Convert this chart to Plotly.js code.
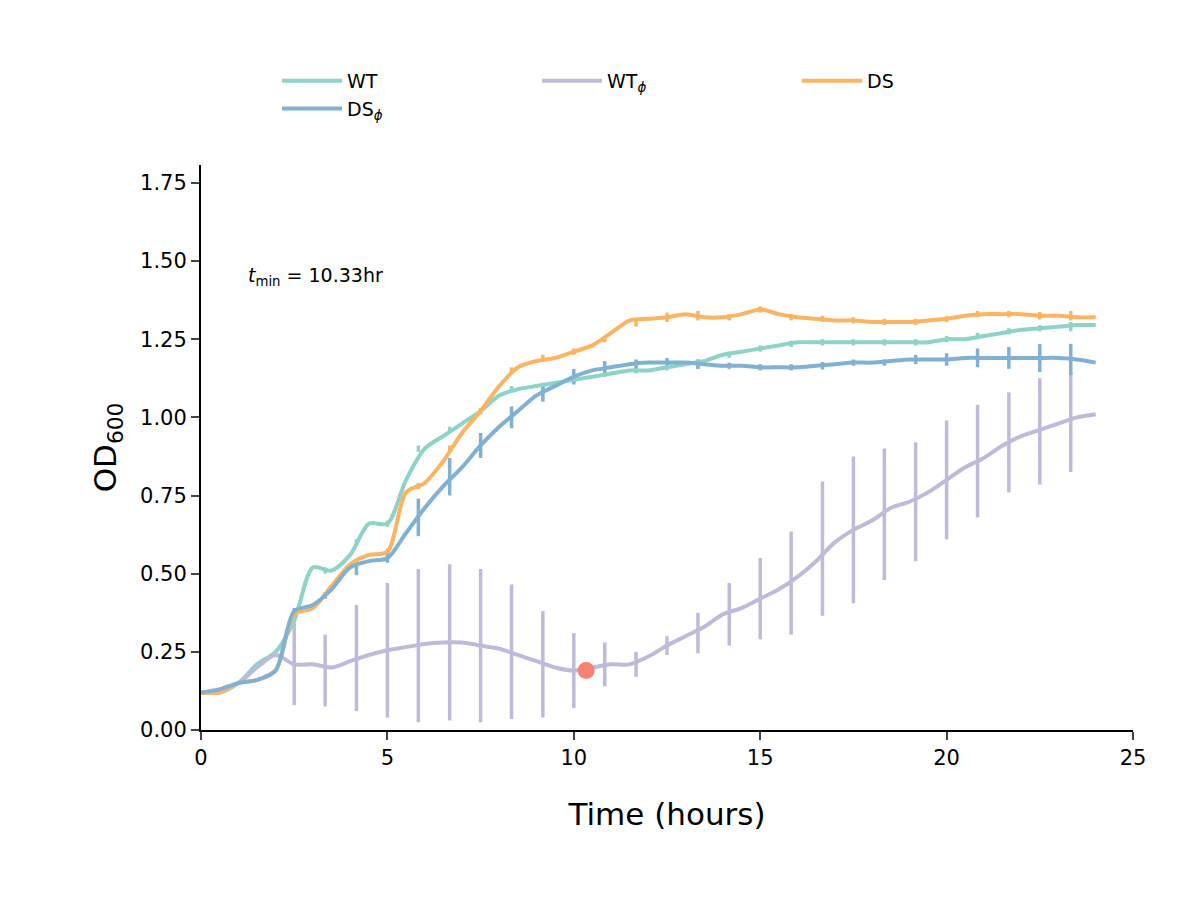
<!DOCTYPE html>
<html>
<head>
<script src="https://cdn.plot.ly/plotly-3.0.1.min.js"></script>
<style>body{margin:0}#plot{width:1200px;height:900px}</style>
</head>
<body>
<div id="plot"></div>
<script>
// time grid (hours) for the curves
const times = [0,0.5,1,1.5,2,2.5,3,3.5,4,4.5,5,5.5,6,6.5,7,7.5,8,8.5,9,9.5,10,10.5,11,11.5,12,12.5,13,13.5,14,14.5,15,15.5,16,16.5,17,17.5,18,18.5,19,19.5,20,20.5,21,21.5,22,22.5,23,23.5,24];

const wt = [0.12,0.12,0.15,0.21,0.25,0.35,0.52,0.51,0.56,0.66,0.66,0.80,0.90,0.94,0.98,1.02,1.07,1.09,1.10,1.11,1.12,1.13,1.14,1.15,1.15,1.16,1.17,1.18,1.20,1.21,1.22,1.23,1.24,1.24,1.24,1.24,1.24,1.24,1.24,1.24,1.25,1.25,1.26,1.27,1.28,1.285,1.29,1.295,1.295];
const wtPhi = [0.12,0.13,0.15,0.20,0.24,0.21,0.21,0.20,0.22,0.24,0.255,0.265,0.275,0.28,0.28,0.27,0.26,0.24,0.22,0.20,0.19,0.20,0.21,0.21,0.235,0.27,0.30,0.33,0.37,0.39,0.42,0.45,0.49,0.54,0.60,0.64,0.67,0.71,0.73,0.76,0.80,0.84,0.87,0.91,0.94,0.96,0.98,1.00,1.01];
const ds = [0.12,0.12,0.15,0.16,0.19,0.37,0.39,0.46,0.53,0.56,0.57,0.76,0.79,0.86,0.95,1.02,1.10,1.16,1.18,1.19,1.21,1.23,1.27,1.31,1.315,1.32,1.33,1.32,1.32,1.33,1.345,1.33,1.32,1.315,1.31,1.31,1.305,1.305,1.305,1.31,1.315,1.325,1.33,1.33,1.33,1.325,1.325,1.32,1.32];
const dsPhi = [0.12,0.13,0.15,0.16,0.19,0.38,0.40,0.45,0.52,0.54,0.55,0.63,0.71,0.78,0.84,0.91,0.97,1.02,1.07,1.10,1.13,1.15,1.16,1.17,1.175,1.175,1.175,1.17,1.165,1.165,1.16,1.16,1.16,1.165,1.17,1.175,1.175,1.18,1.185,1.185,1.185,1.19,1.19,1.19,1.19,1.19,1.19,1.185,1.175];

// error bar sample times and values
const errTimes = [2.5,3.33,4.17,5,5.83,6.67,7.5,8.33,9.17,10,10.83,11.67,12.5,13.33,14.17,15,15.83,16.67,17.5,18.33,19.17,20,20.83,21.67,22.5,23.33];
const wtPhiErrMean = [0.21,0.19,0.23,0.255,0.27,0.28,0.27,0.25,0.21,0.19,0.21,0.21,0.27,0.31,0.37,0.42,0.47,0.58,0.64,0.69,0.73,0.80,0.86,0.92,0.955,0.985];
const wtPhiErr = [0.13,0.115,0.17,0.215,0.245,0.25,0.245,0.215,0.17,0.12,0.07,0.04,0.03,0.065,0.10,0.13,0.165,0.215,0.235,0.21,0.19,0.19,0.18,0.16,0.17,0.16];
const dsPhiErrMean = [0.38,0.43,0.51,0.55,0.68,0.81,0.91,1.0,1.08,1.13,1.16,1.17,1.175,1.17,1.165,1.16,1.16,1.165,1.175,1.175,1.185,1.185,1.19,1.19,1.19,1.185];
const dsPhiErr = [0.01,0.01,0.015,0.015,0.06,0.06,0.04,0.035,0.03,0.025,0.02,0.015,0.015,0.015,0.01,0.01,0.01,0.012,0.01,0.01,0.015,0.02,0.03,0.035,0.045,0.05];
const dsErrMean = [0.37,0.43,0.53,0.57,0.78,0.9,1.02,1.15,1.19,1.21,1.25,1.30,1.32,1.325,1.32,1.345,1.32,1.315,1.31,1.305,1.305,1.315,1.33,1.33,1.325,1.325];
const dsErr = [0.01,0.01,0.01,0.01,0.01,0.01,0.01,0.01,0.01,0.01,0.01,0.01,0.015,0.015,0.01,0.01,0.01,0.01,0.01,0.01,0.01,0.01,0.01,0.01,0.012,0.015];
const wtErrMean = [0.35,0.51,0.60,0.66,0.90,0.96,1.02,1.09,1.10,1.12,1.14,1.15,1.16,1.17,1.20,1.22,1.235,1.24,1.24,1.24,1.24,1.25,1.26,1.275,1.285,1.29];
const wtErr = [0.01,0.01,0.01,0.01,0.01,0.01,0.01,0.01,0.01,0.01,0.01,0.01,0.01,0.015,0.01,0.01,0.01,0.01,0.01,0.01,0.01,0.01,0.01,0.01,0.01,0.015];

const tMin = 10.33;
const tMinValue = 0.19;

const colors = { wt: '#8dd3c7', wtPhi: '#bebada', ds: '#fdb462', dsPhi: '#80b1d3' };

function lineTrace(y, color, name) {
  return { x: times, y: y, mode: 'lines', name: name, line: { color: color, width: 4, shape: 'spline', smoothing: 0.8 } };
}
function errTrace(y, err, color) {
  return {
    x: errTimes, y: y, mode: 'markers', marker: { size: 0.1, color: color, opacity: 0 },
    error_y: { type: 'data', array: err, visible: true, color: color, thickness: 3.5, width: 0 },
    showlegend: false, hoverinfo: 'skip',
  };
}

const data = [
  errTrace(wtPhiErrMean, wtPhiErr, colors.wtPhi),
  errTrace(wtErrMean, wtErr, colors.wt),
  errTrace(dsErrMean, dsErr, colors.ds),
  errTrace(dsPhiErrMean, dsPhiErr, colors.dsPhi),
  lineTrace(wt, colors.wt, 'WT'),
  lineTrace(wtPhi, colors.wtPhi, 'WT<sub><i>ϕ</i></sub>'),
  lineTrace(ds, colors.ds, 'DS'),
  lineTrace(dsPhi, colors.dsPhi, 'DS<sub><i>ϕ</i></sub>'),
  { x: [tMin], y: [tMinValue], mode: 'markers', marker: { color: '#fa8072', size: 17 }, showlegend: false },
];

const layout = {
  width: 1200,
  height: 900,
  paper_bgcolor: '#fff',
  plot_bgcolor: '#fff',
  font: { family: 'DejaVu Sans, sans-serif', color: '#000', size: 22 },
  margin: { l: 201, r: 67, t: 165, b: 170 },
  showlegend: true,
  legend: {
    orientation: 'h', x: 0.5, xanchor: 'center', y: 1.124, yanchor: 'middle',
    font: { size: 19 }, itemwidth: 60, entrywidth: 185, entrywidthmode: 'pixels', traceorder: 'normal',
  },
  xaxis: {
    range: [0, 25], tickvals: [0, 5, 10, 15, 20, 25], showgrid: false, zeroline: false,
    showline: true, linecolor: '#000', linewidth: 2, ticks: 'outside', ticklen: 8, tickwidth: 2,
    tickfont: { size: 21 },
    title: { text: 'Time (hours)', font: { size: 31 }, standoff: 34 },
  },
  yaxis: {
    range: [0, 1.807], tickvals: [0, 0.25, 0.5, 0.75, 1, 1.25, 1.5, 1.75], tickformat: '.2f',
    showgrid: false, zeroline: false,
    showline: true, linecolor: '#000', linewidth: 2, ticks: 'outside', ticklen: 8, tickwidth: 2,
    tickfont: { size: 21 },
    title: { text: 'OD<sub>600</sub>', font: { size: 31 }, standoff: 14 },
  },
  annotations: [{
    x: 1.2, y: 1.45, xref: 'x', yref: 'y', xanchor: 'left', yanchor: 'middle', showarrow: false,
    text: '<i>t</i><sub>min</sub> = 10.33hr', font: { size: 19 },
  }],
};

Plotly.newPlot('plot', data, layout, { staticPlot: true });
</script>
</body>
</html>
